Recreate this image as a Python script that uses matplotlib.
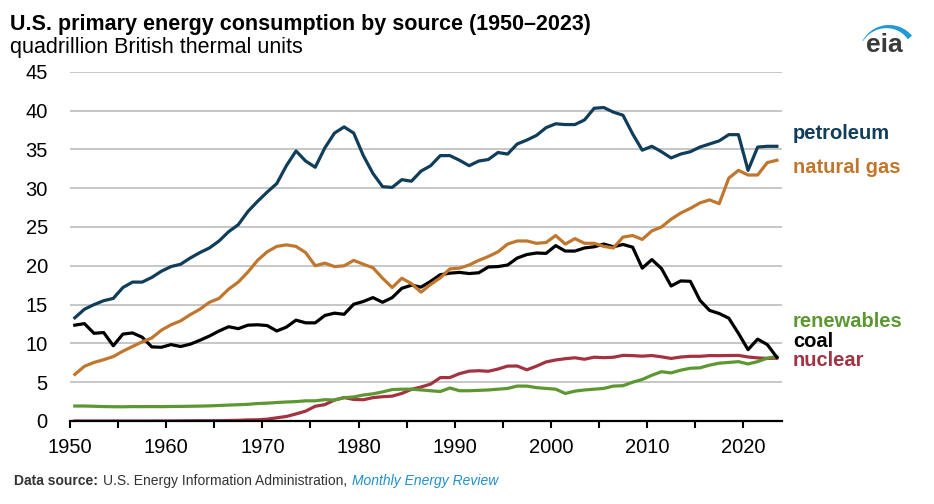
import matplotlib
matplotlib.use('Agg')
import matplotlib.pyplot as plt
import numpy as np
from matplotlib.patches import Polygon

plt.rcParams['font.family'] = ['Liberation Sans', 'DejaVu Sans']

# annual values, quadrillion Btu, 1950-2023
years = np.arange(1950, 2024)

petroleum = [13.3, 14.4, 15.0, 15.5, 15.8, 17.2, 17.9, 17.9, 18.5, 19.3,
             19.9, 20.2, 21.0, 21.7, 22.3, 23.2, 24.4, 25.3, 27.0, 28.3,
             29.5, 30.6, 32.9, 34.8, 33.5, 32.7, 35.2, 37.1, 37.9, 37.1,
             34.2, 31.9, 30.2, 30.1, 31.1, 30.9, 32.2, 32.9, 34.2, 34.2,
             33.6, 32.9, 33.5, 33.7, 34.6, 34.4, 35.7, 36.2, 36.8, 37.8,
             38.3, 38.2, 38.2, 38.8, 40.3, 40.4, 39.8, 39.4, 37.0, 34.9,
             35.4, 34.7, 33.9, 34.4, 34.7, 35.3, 35.7, 36.1, 36.9, 36.9,
             32.3, 35.3, 35.4, 35.4]

natural_gas = [6.0, 7.05, 7.55, 7.9, 8.3, 9.0, 9.6, 10.2, 10.7, 11.7,
               12.4, 12.9, 13.7, 14.4, 15.3, 15.8, 17.0, 17.9, 19.2, 20.7,
               21.8, 22.5, 22.7, 22.5, 21.7, 20.0, 20.35, 19.9, 20.0, 20.7,
               20.2, 19.75, 18.4, 17.2, 18.4, 17.7, 16.6, 17.6, 18.45, 19.6,
               19.7, 20.1, 20.7, 21.2, 21.8, 22.8, 23.2, 23.2, 22.9, 23.0,
               23.9, 22.8, 23.5, 22.9, 22.9, 22.5, 22.3, 23.7, 23.9, 23.4,
               24.5, 25.0, 26.0, 26.8, 27.4, 28.1, 28.5, 28.0, 31.3, 32.3,
               31.7, 31.7, 33.3, 33.6]

coal = [12.35, 12.55, 11.3, 11.4, 9.7, 11.2, 11.35, 10.8, 9.55, 9.5,
        9.85, 9.6, 9.9, 10.4, 10.95, 11.6, 12.15, 11.9, 12.35, 12.4,
        12.3, 11.6, 12.1, 13.0, 12.65, 12.65, 13.6, 13.9, 13.75, 15.05,
        15.4, 15.9, 15.3, 15.9, 17.1, 17.5, 17.25, 18.0, 18.85, 19.05,
        19.15, 19.0, 19.1, 19.85, 19.9, 20.1, 21.0, 21.45, 21.65, 21.6,
        22.6, 21.9, 21.9, 22.3, 22.45, 22.8, 22.45, 22.75, 22.4, 19.7,
        20.8, 19.65, 17.4, 18.05, 18.0, 15.55, 14.25, 13.85, 13.25, 11.3,
        9.2, 10.55, 9.85, 8.2]

nuclear = [0.0, 0.0, 0.0, 0.0, 0.0, 0.0, 0.0, 0.0, 0.002, 0.002,
           0.006, 0.02, 0.026, 0.038, 0.04, 0.043, 0.064, 0.088, 0.142, 0.154,
           0.239, 0.413, 0.584, 0.91, 1.272, 1.9, 2.111, 2.702, 3.024, 2.776,
           2.739, 3.008, 3.131, 3.203, 3.553, 4.076, 4.38, 4.754, 5.587, 5.602,
           6.104, 6.422, 6.479, 6.41, 6.694, 7.075, 7.087, 6.597, 7.068, 7.61,
           7.862, 8.029, 8.145, 7.96, 8.223, 8.161, 8.215, 8.459, 8.426, 8.355,
           8.434, 8.269, 8.062, 8.244, 8.338, 8.337, 8.427, 8.419, 8.438, 8.452,
           8.251, 8.131, 8.061, 8.1]

renewables = [1.93, 1.93, 1.9, 1.86, 1.84, 1.83, 1.86, 1.85, 1.86, 1.85,
              1.87, 1.88, 1.9, 1.92, 1.95, 2.0, 2.05, 2.1, 2.15, 2.25,
              2.3, 2.38, 2.45, 2.5, 2.6, 2.6, 2.75, 2.7, 3.0, 3.1,
              3.35, 3.5, 3.75, 4.05, 4.1, 4.1, 4.0, 3.9, 3.8, 4.25,
              3.9, 3.9, 3.95, 4.0, 4.1, 4.2, 4.5, 4.5, 4.3, 4.2,
              4.1, 3.55, 3.85, 4.0, 4.1, 4.2, 4.5, 4.55, 5.0, 5.35,
              5.9, 6.35, 6.2, 6.55, 6.8, 6.85, 7.2, 7.45, 7.55, 7.65,
              7.35, 7.65, 8.1, 8.3]

# label text, colour, y position of the right-hand label
series = [
    ('nuclear', nuclear, '#a33340', 7.8),
    ('renewables', renewables, '#5d9732', 12.8),
    ('coal', coal, '#000000', 10.3),
    ('natural gas', natural_gas, '#c0772d', 32.7),
    ('petroleum', petroleum, '#0f3d5a', 37.1),
]

W, H = 934, 504
fig = plt.figure(figsize=(W / 100, H / 100), dpi=100)
ax = fig.add_axes([70 / W, 83 / H, 711.7 / W, 349.2 / H])

# points sit in the middle of each year
x = years + 0.5
for name, vals, color, label_y in series:
    ax.plot(x, vals, color=color, lw=2.3, solid_joinstyle='round', zorder=3)
    ax.text(2025.15, label_y, name, color=color, fontsize=14.5, weight='bold',
            va='center', ha='left', clip_on=False)

ax.set_xlim(1950, 2024)
ax.set_ylim(0, 45)
ax.set_yticks(np.arange(0, 46, 5))
ax.set_xticks(np.arange(1950, 2021, 10))
ax.set_xticks(np.arange(1955, 2021, 10), minor=True)

for yv in np.arange(5, 46, 5):
    ax.axhline(yv, color='#bdbdbd', lw=1.2, zorder=1)

for s in ['top', 'right', 'left']:
    ax.spines[s].set_visible(False)
ax.spines['bottom'].set_linewidth(1.6)
ax.spines['bottom'].set_zorder(4)

ax.tick_params(axis='y', length=0, pad=16, labelsize=14.5)
ax.tick_params(axis='x', which='both', length=5, width=1.5, direction='out')
ax.tick_params(axis='x', which='major', pad=7, labelsize=14.5)

fig.text(10 / W, 1 - 30 / H, 'U.S. primary energy consumption by source (1950\u20132023)',
         fontsize=15.5, weight='bold', va='baseline')
fig.text(10 / W, 1 - 53 / H, 'quadrillion British thermal units',
         fontsize=15.5, va='baseline')

# footer pieces laid out one after another
r = fig.canvas.get_renderer()
fx = 14
parts = [('Data source:', 'bold', 'normal', '#333333', ' '),
         ('U.S. Energy Information Administration,', 'normal', 'normal', '#333333', ' '),
         ('Monthly Energy Review', 'normal', 'italic', '#1f8fcc', '')]
for txt, wt, st, col, tail in parts:
    t = fig.text(fx / W, 1 - 485 / H, txt + tail, fontsize=10, weight=wt,
                 style=st, color=col, va='baseline')
    fx = t.get_window_extent(r).x1 + 1

# eia logo
fig.text(884 / W, 1 - 52 / H, 'eia', fontsize=19, weight='bold', color='#3a3a3a',
         ha='center', va='baseline')
th = np.linspace(np.radians(152), np.radians(40), 40)
cx, cy, R = 889, H - 55, 30
wdt = np.linspace(0.5, 5.5, th.size)
outer = np.c_[cx + R * np.cos(th), cy + R * np.sin(th)]
inner = np.c_[cx + (R - wdt) * np.cos(th), cy + (R - wdt) * np.sin(th)]
pts = np.vstack([outer, inner[::-1]])
pts[:, 0] /= W
pts[:, 1] /= H
fig.patches.append(Polygon(pts, closed=True, transform=fig.transFigure,
                           facecolor='#1f9ad6', edgecolor='none'))

fig.savefig('out.png', dpi=100)
